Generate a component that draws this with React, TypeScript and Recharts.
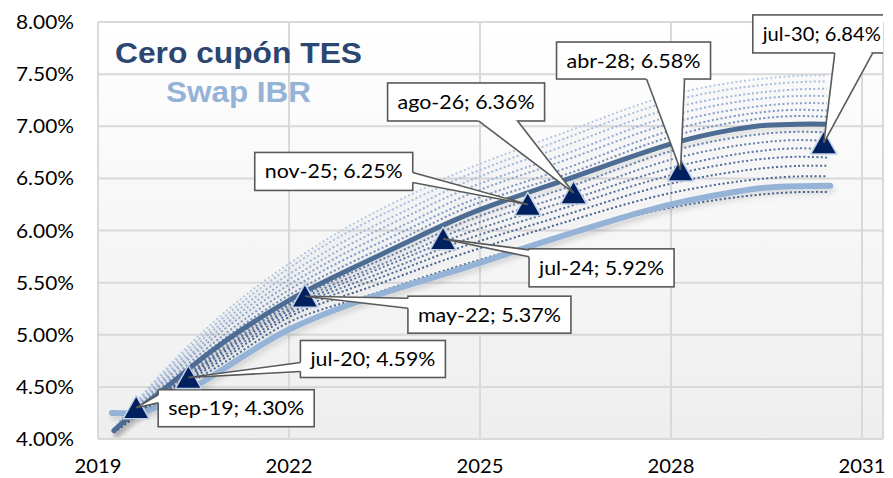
import { ComposedChart, Line, Scatter, XAxis, YAxis, CartesianGrid, Customized } from 'recharts'

// eje x en años (fracción), eje y en %
const X_TICKS = [2019, 2022, 2025, 2028, 2031]
const Y_TICKS = [4, 4.5, 5, 5.5, 6, 6.5, 7, 7.5, 8]

// curva cero cupón TES actual
const TES_X = [2019.25, 2019.6, 2020.0, 2020.4, 2021.0, 2022.0, 2023.0, 2024.0, 2025.0, 2026.5, 2028.0, 2029.0, 2029.5, 2030.0, 2030.45]
const TES_Y = [4.08, 4.27, 4.46, 4.66, 4.94, 5.33, 5.64, 5.93, 6.20, 6.52, 6.83, 6.97, 7.01, 7.02, 7.02]

// curva swap IBR
const IBR_X = [2019.22, 2019.7, 2020.1, 2020.6, 2021.3, 2022.0, 2023.0, 2024.0, 2025.0, 2026.0, 2027.0, 2028.0, 2029.0, 2029.7, 2030.5]
const IBR_Y = [4.25, 4.26, 4.36, 4.53, 4.80, 5.05, 5.30, 5.50, 5.69, 5.89, 6.08, 6.25, 6.37, 6.42, 6.43]

// curvas históricas (punteadas), de la más alta a la más baja
const HIST_X = [2019.25, 2020, 2021, 2022, 2023, 2024, 2025, 2026.5, 2028, 2029.5, 2030.45]
const HIST_01 = [4.10, 4.63, 5.22, 5.68, 6.06, 6.37, 6.64, 6.98, 7.30, 7.46, 7.49]
const HIST_02 = [4.10, 4.61, 5.18, 5.64, 6.01, 6.31, 6.58, 6.92, 7.24, 7.40, 7.43]
const HIST_03 = [4.09, 4.58, 5.14, 5.58, 5.94, 6.24, 6.52, 6.85, 7.17, 7.33, 7.36]
const HIST_04 = [4.09, 4.55, 5.10, 5.53, 5.88, 6.18, 6.45, 6.77, 7.10, 7.27, 7.29]
const HIST_05 = [4.09, 4.53, 5.06, 5.48, 5.82, 6.11, 6.39, 6.71, 7.03, 7.20, 7.22]
const HIST_06 = [4.08, 4.50, 5.01, 5.43, 5.76, 6.05, 6.32, 6.63, 6.96, 7.14, 7.15]
const HIST_07 = [4.08, 4.48, 4.97, 5.38, 5.70, 5.99, 6.27, 6.57, 6.90, 7.08, 7.09]
const HIST_08 = [4.08, 4.44, 4.91, 5.30, 5.60, 5.87, 6.14, 6.44, 6.76, 6.93, 6.94]
const HIST_09 = [4.08, 4.43, 4.88, 5.28, 5.56, 5.82, 6.08, 6.37, 6.68, 6.85, 6.86]
const HIST_10 = [4.07, 4.42, 4.86, 5.25, 5.53, 5.78, 6.02, 6.31, 6.60, 6.77, 6.78]
const HIST_11 = [4.07, 4.42, 4.84, 5.23, 5.49, 5.73, 5.96, 6.25, 6.53, 6.69, 6.70]
const HIST_12 = [4.07, 4.41, 4.81, 5.20, 5.45, 5.68, 5.90, 6.18, 6.45, 6.60, 6.62]
const HIST_13 = [4.06, 4.40, 4.78, 5.17, 5.40, 5.62, 5.83, 6.11, 6.36, 6.50, 6.52]
const HIST_14 = [4.06, 4.38, 4.74, 5.12, 5.33, 5.53, 5.72, 5.99, 6.22, 6.35, 6.37]

// puntos TES marcados
const POINT_X = [2019.6, 2020.42, 2022.25, 2024.42, 2025.75, 2026.47, 2028.15, 2030.4]
const POINT_Y = [4.30, 4.59, 5.37, 5.92, 6.25, 6.36, 6.58, 6.84]
const POINT_LABELS = ['sep-19', 'jul-20', 'may-22', 'jul-24', 'nov-25', 'ago-26', 'abr-28', 'jul-30']

const HIST = [HIST_01, HIST_02, HIST_03, HIST_04, HIST_05, HIST_06, HIST_07, HIST_08, HIST_09, HIST_10, HIST_11, HIST_12, HIST_13, HIST_14]
const HIST_COLORS = [
    '#B5C8E5', '#AABFE0', '#A0B7DB', '#95AED6', '#89A3CE', '#7D98C6', '#718DBD',
    '#6A85B4', '#627EAC', '#5A77A5', '#53709E', '#4C6997', '#466390', '#4A6A96',
]

// posición de cada globo respecto al punto: caja (dx, dy, w, h) y base de la cuña
const CALLOUTS = [
    { dx: 22, dy: -18, w: 156, h: 37, w1: [22, -13], w2: [22, -5] },
    { dx: 112, dy: -37, w: 145, h: 37, w1: [112, -15], w2: [112, -6] },
    { dx: 103, dy: 0, w: 163, h: 37, w1: [103, 2], w2: [103, 12] },
    { dx: 86, dy: 10, w: 145, h: 38, w1: [86, 11], w2: [86, 18] },
    { dx: -273, dy: -52, w: 158, h: 38, w1: [-115, -32], w2: [-115, -22] },
    { dx: -186, dy: -110, w: 157, h: 38, w1: [-95, -72], w2: [-56, -72] },
    { dx: -124, dy: -128, w: 154, h: 37, w1: [-34, -91], w2: [4, -91] },
    { dx: -71, dy: -128, w: 138, h: 38, w1: [11, -90], w2: [49, -90] },
]

const toRows = (xs: number[], ys: number[]) => xs.map((x, i) => ({ x, y: ys[i] }))

const FONT = 'Lato, "Open Sans", sans-serif'

const YTick = ({ y, payload }: any) => (
    <text x={74} y={y + 7} textAnchor="end" fontFamily={FONT} fontSize={19} fill="#000"
        textLength={58} lengthAdjust="spacingAndGlyphs">
        {payload.value.toFixed(2)}%
    </text>
)

const XTick = ({ x, payload }: any) => (
    <text x={x} y={473} textAnchor="middle" fontFamily={FONT} fontSize={19} fill="#000"
        textLength={47} lengthAdjust="spacingAndGlyphs">
        {payload.value}
    </text>
)

const Marker = (props: any) => {
    const { cx, cy, payload } = props
    const c = CALLOUTS[payload.i]
    const bx = cx + c.dx
    const by = cy + c.dy
    const p1 = [cx + c.w1[0], cy + c.w1[1]]
    const p2 = [cx + c.w2[0], cy + c.w2[1]]
    const mid = [bx + c.w / 2, by + c.h / 2]
    return (
        <g>
            <polygon
                points={`${cx},${cy - 12} ${cx + 13},${cy + 11} ${cx - 13},${cy + 11}`}
                fill="#002060" stroke="#C3D1E6" strokeWidth={1.5} strokeLinejoin="round"
            />
            <rect x={bx} y={by} width={c.w} height={c.h} fill="#fff" stroke="#595959" strokeWidth={1.6} />
            <polygon points={`${cx},${cy} ${p1[0]},${p1[1]} ${mid[0]},${mid[1]} ${p2[0]},${p2[1]}`} fill="#fff" />
            <line x1={cx} y1={cy} x2={p1[0]} y2={p1[1]} stroke="#595959" strokeWidth={1.6} />
            <line x1={cx} y1={cy} x2={p2[0]} y2={p2[1]} stroke="#595959" strokeWidth={1.6} />
            <text x={bx + c.w / 2} y={by + c.h / 2 + 7} textAnchor="middle" fontFamily={FONT} fontSize={19}
                fill="#000" textLength={c.w - 20} lengthAdjust="spacingAndGlyphs">
                {`${payload.label}; ${payload.y.toFixed(2)}%`}
            </text>
        </g>
    )
}

const LegendText = () => (
    <g fontFamily='"Liberation Sans", Arial, sans-serif' fontWeight="bold" fontSize={29} textAnchor="middle">
        <text x={238.5} y={63} fill="#2B4670" textLength={247} lengthAdjust="spacingAndGlyphs">Cero cupón TES</text>
        <text x={238.5} y={102} fill="#95B3D7" textLength={145} lengthAdjust="spacingAndGlyphs">Swap IBR</text>
    </g>
)

export default function App() {
    const points = POINT_X.map((x, i) => ({ x, y: POINT_Y[i], label: POINT_LABELS[i], i }))

    return (
        <div style={{ width: 893, height: 478, background: '#fff' }}>
            <style>{'body{margin:0}'}</style>
            <ComposedChart width={893} height={478} margin={{ top: 22, right: 10, bottom: 0, left: 0 }}>
                <defs>
                    <linearGradient id="plotBg" x1="0" y1="0" x2="0" y2="1">
                        <stop offset="0%" stopColor="#ffffff" />
                        <stop offset="100%" stopColor="#eeeeee" />
                    </linearGradient>
                    <filter id="soft" x="-5%" y="-20%" width="110%" height="140%">
                        <feDropShadow dx="2" dy="4" stdDeviation="2.5" floodColor="#000" floodOpacity="0.12" />
                    </filter>
                </defs>
                <CartesianGrid stroke="#d9d9d9" strokeWidth={2} fill="url(#plotBg)" fillOpacity={1} />
                <XAxis
                    type="number"
                    dataKey="x"
                    domain={[2019, 2031.33]}
                    ticks={X_TICKS}
                    allowDataOverflow
                    height={39}
                    axisLine={{ stroke: '#d9d9d9', strokeWidth: 2 }}
                    tickLine={false}
                    tick={<XTick />}
                    interval={0}
                />
                <YAxis
                    type="number"
                    domain={[4, 8]}
                    ticks={Y_TICKS}
                    width={98}
                    axisLine={false}
                    tickLine={false}
                    tick={<YTick />}
                    interval={0}
                />
                {HIST.map((ys, k) => (
                    <Line
                        key={`h${k}`}
                        data={toRows(HIST_X, ys)}
                        dataKey="y"
                        type="natural"
                        stroke={HIST_COLORS[k]}
                        strokeWidth={2}
                        strokeDasharray="2 2.4"
                        dot={false}
                        activeDot={false}
                        isAnimationActive={false}
                        filter="url(#soft)"
                    />
                ))}
                <Line
                    data={toRows(IBR_X, IBR_Y)}
                    dataKey="y"
                    type="natural"
                    stroke="#95B3D7"
                    strokeWidth={6}
                    strokeLinecap="round"
                    dot={false}
                    activeDot={false}
                    isAnimationActive={false}
                    filter="url(#soft)"
                />
                <Line
                    data={toRows(TES_X, TES_Y)}
                    dataKey="y"
                    type="natural"
                    stroke="#4D6C93"
                    strokeWidth={5}
                    strokeLinecap="round"
                    dot={false}
                    activeDot={false}
                    isAnimationActive={false}
                    filter="url(#soft)"
                />
                <Scatter data={points} dataKey="y" shape={<Marker />} isAnimationActive={false} />
                <Customized component={LegendText} />
            </ComposedChart>
        </div>
    )
}
